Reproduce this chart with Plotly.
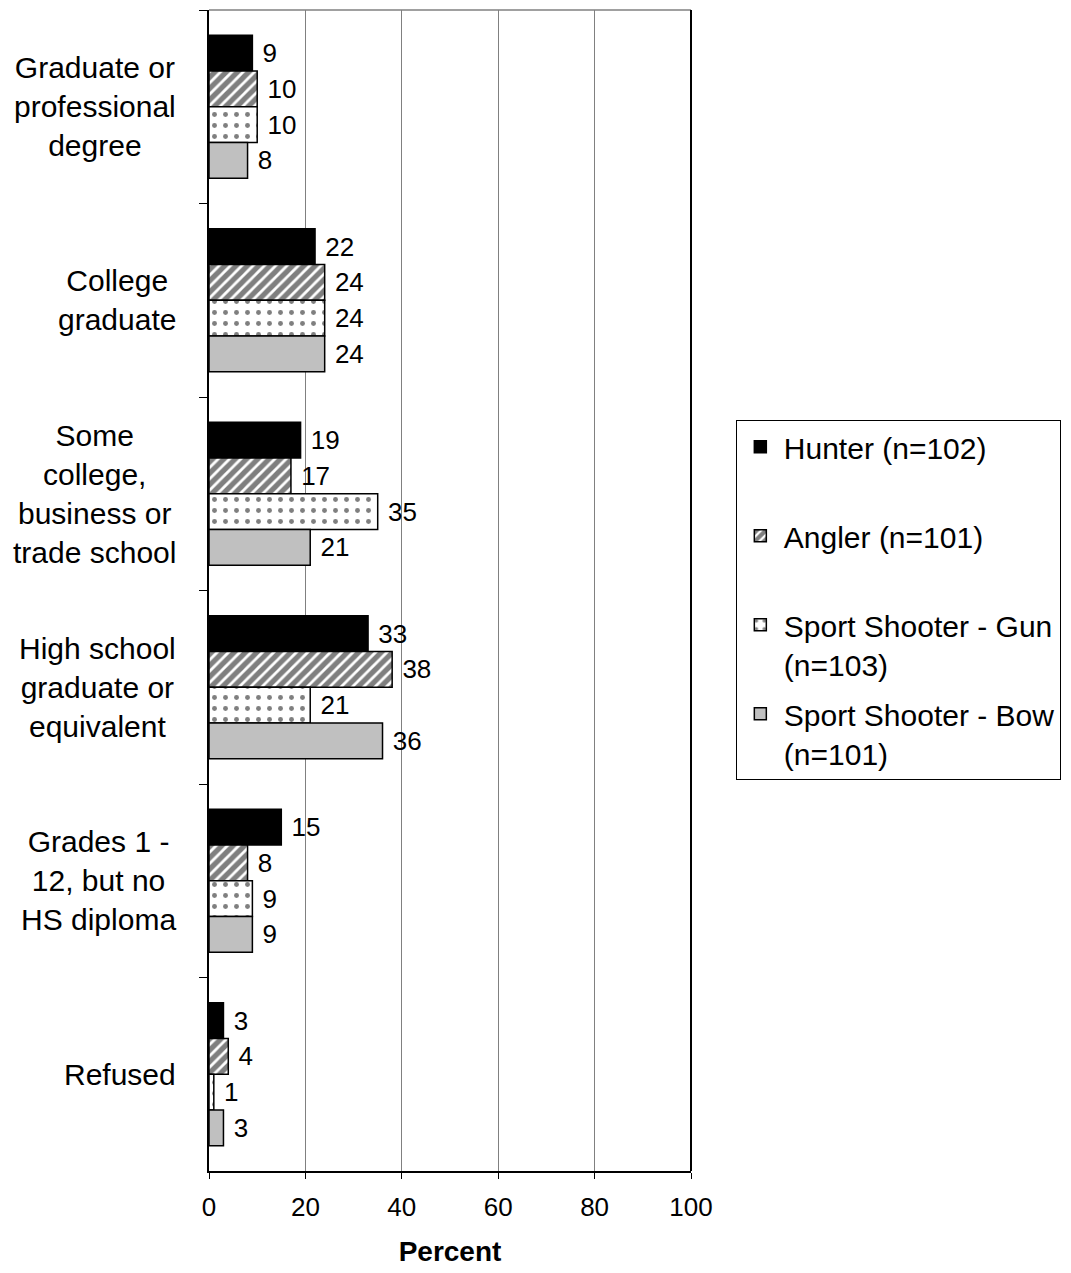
import plotly.graph_objects as go

categories = ["Graduate or<br>professional<br>degree",
              "College<br>graduate",
              "Some<br>college,<br>business or<br>trade school",
              "High school<br>graduate or<br>equivalent",
              "Grades 1 -<br>12, but no<br>HS diploma",
              "Refused"]

hunter = [9, 22, 19, 33, 15, 3]
angler = [10, 24, 17, 38, 8, 4]
gun = [10, 24, 35, 21, 9, 1]
bow = [8, 24, 21, 36, 9, 3]

names = ["Hunter (n=102)<br>&nbsp;", "Angler (n=101)<br>&nbsp;",
         "Sport Shooter - Gun<br>(n=103)", "Sport Shooter - Bow<br>(n=101)"]

FONT = "Arial, Liberation Sans, sans-serif"

fig = go.Figure()

styles = [
    dict(color="black", line=dict(color="black", width=1.5)),
    dict(color="white", line=dict(color="black", width=1.5),
         pattern=dict(shape="/", fgcolor="black", bgcolor="white", size=8, solidity=0.65)),
    dict(color="white", line=dict(color="black", width=1.5),
         pattern=dict(shape=".", fgcolor="black", bgcolor="white", size=11, solidity=0.16)),
    dict(color="#c0c0c0", line=dict(color="black", width=1.5)),
]

for i, (vals, name, st) in enumerate(zip([hunter, angler, gun, bow], names, styles)):
    fig.add_trace(go.Bar(
        y=categories, x=vals, orientation="h", name=name, marker=st,
        text=["\u00a0" + str(v) for v in vals], textposition="outside", constraintext="none",
        textfont=dict(family=FONT, size=26, color="black"), cliponaxis=False,
        legendgroup=str(i),
    ))

# category labels centred line-by-line, right edge next to the axis
for c in categories:
    fig.add_annotation(x=-0.064, xref="paper", y=c, yref="y", text=c,
                       showarrow=False, xanchor="right", align="center",
                       font=dict(family=FONT, size=30, color="black"))

# top frame line
fig.add_shape(type="line", xref="paper", yref="paper", x0=0, x1=1, y0=1, y1=1,
              line=dict(color="#808080", width=1.5))

fig.update_layout(
    width=1071, height=1273,
    margin=dict(l=201, r=388, t=2, b=110, autoexpand=False),
    paper_bgcolor="white", plot_bgcolor="white",
    barmode="group", bargap=0.26, bargroupgap=0,
    font=dict(family=FONT, size=26, color="black"),
    xaxis=dict(range=[0, 100], tickvals=[0, 20, 40, 60, 80, 100],
               showgrid=True, gridcolor="#808080", gridwidth=1,
               showline=True, linecolor="black", linewidth=2,
               ticks="outside", ticklen=6, tickcolor="black",
               ticklabelstandoff=6,
               zeroline=False, tickfont=dict(size=26),
               title=dict(text="<b>Percent</b>", font=dict(size=28), standoff=20)),
    yaxis=dict(autorange="reversed", showticklabels=False,
               showline=True, linecolor="black", linewidth=2, mirror=False,
               ticks="outside", tickson="boundaries", ticklen=8, tickcolor="black",
               showgrid=False),
    legend=dict(x=1.093, y=0.647, xanchor="left", yanchor="top",
                bordercolor="black", borderwidth=1, bgcolor="white",
                traceorder="grouped", valign="top", tracegroupgap=8,
                itemwidth=37,
                font=dict(family=FONT, size=30, color="black")),
    showlegend=True,
)

# right frame line (black, at 100)
fig.add_shape(type="line", xref="paper", yref="paper", x0=1, x1=1, y0=0, y1=1,
              line=dict(color="black", width=2))

fig.write_html("out.html")
